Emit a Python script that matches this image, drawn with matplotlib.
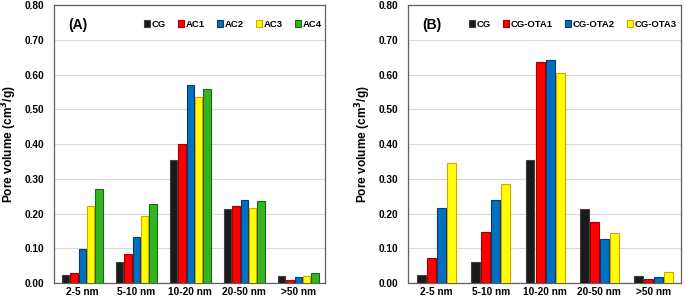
import matplotlib.pyplot as plt
import numpy as np

plt.rcParams['font.family'] = ['Liberation Sans', 'DejaVu Sans']
plt.rcParams['font.weight'] = 'bold'

ranges = ["2-5 nm", "5-10 nm", "10-20 nm", "20-50 nm", ">50 nm"]

cg = [0.022, 0.061, 0.354, 0.212, 0.020]
ac1 = [0.028, 0.084, 0.401, 0.223, 0.008]
ac2 = [0.098, 0.133, 0.570, 0.238, 0.018]
ac3 = [0.223, 0.194, 0.537, 0.215, 0.020]
ac4 = [0.271, 0.227, 0.560, 0.235, 0.029]

ota1 = [0.072, 0.146, 0.637, 0.177, 0.012]
ota2 = [0.217, 0.240, 0.642, 0.126, 0.018]
ota3 = [0.346, 0.284, 0.605, 0.145, 0.032]

fills = {"black": "#1a1a1a", "red": "#ff0000", "blue": "#0070c0",
         "yellow": "#ffff00", "green": "#33b521"}
edges = {"black": "#404040", "red": "#a00000", "blue": "#0a3a70",
         "yellow": "#e0a000", "green": "#1a6a10"}


def draw_panel(ax, series, width, tag):
    x = np.arange(len(ranges))
    n = len(series)
    for i, (label, vals, col) in enumerate(series):
        off = (i - (n - 1) / 2) * width
        ax.bar(x + off, vals, width * 0.88, color=fills[col],
               edgecolor=edges[col], linewidth=0.8, label=label, zorder=3)
    ax.set_xlim(-0.52, len(ranges) - 0.5)
    ax.set_ylim(0, 0.8)
    ax.set_yticks(np.arange(0, 0.81, 0.1))
    ax.set_yticklabels([f"{v:.2f}" for v in np.arange(0, 0.81, 0.1)])
    ax.set_xticks(x)
    ax.set_xticklabels(ranges)
    ax.tick_params(axis='both', labelsize=7.3, length=0, pad=3)
    ax.tick_params(axis='y', pad=7)
    ax.yaxis.grid(True, color="#d9d9d9", linewidth=0.8, zorder=0)
    for s in ax.spines.values():
        s.set_color("#606060")
        s.set_linewidth(0.9)
    ax.set_ylabel("Pore volume (cm$^\\mathbf{3}$/g)", fontsize=8.6,
                  fontweight='bold')
    ax.yaxis.set_label_coords(-0.13, 0.5)
    ax.text(0.052, 0.928, tag, transform=ax.transAxes, fontsize=10,
            fontweight='bold', va='center')
    ax.legend(loc='center right', bbox_to_anchor=(0.985, 0.932), ncol=n,
              frameon=False, fontsize=6.8, handlelength=0.65,
              handleheight=0.65, handletextpad=0.15, columnspacing=1.3,
              borderaxespad=0.0, borderpad=0.0)


fig = plt.figure(figsize=(6.85, 3.0), dpi=100)
ax1 = fig.add_axes([0.079, 0.057, 0.396, 0.925])
ax2 = fig.add_axes([0.596, 0.057, 0.398, 0.925])

draw_panel(ax1, [("CG", cg, "black"), ("AC1", ac1, "red"),
                 ("AC2", ac2, "blue"), ("AC3", ac3, "yellow"),
                 ("AC4", ac4, "green")], 0.155, "(A)")
draw_panel(ax2, [("CG", cg, "black"), ("CG-OTA1", ota1, "red"),
                 ("CG-OTA2", ota2, "blue"), ("CG-OTA3", ota3, "yellow")],
           0.185, "(B)")

fig.savefig("out.png", dpi=100)
